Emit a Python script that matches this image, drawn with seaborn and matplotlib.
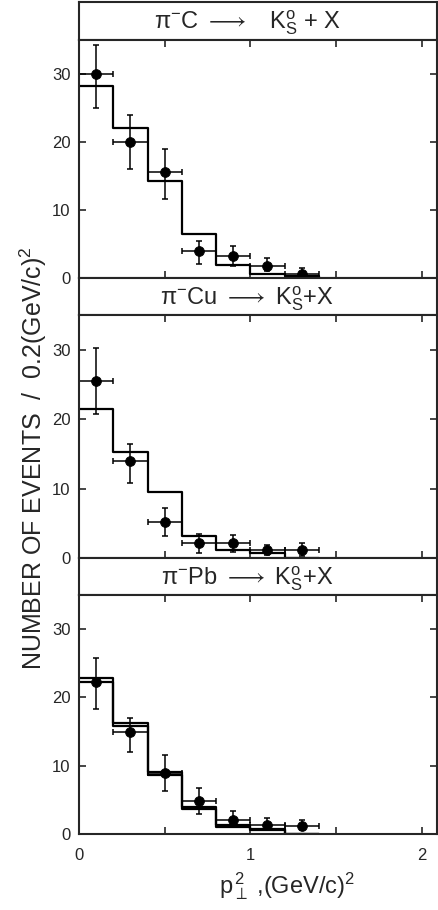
import numpy as np
import pandas as pd
import matplotlib
matplotlib.use("Agg")
import matplotlib.pyplot as plt
import seaborn as sns

# ---------------------------------------------------------------- data
bin_edges = [0.0, 0.2, 0.4, 0.6, 0.8, 1.0, 1.2, 1.4]
pt_x = [0.1, 0.3, 0.5, 0.7, 0.9, 1.1, 1.3]

titles = [r"π$^{-}$C $\longrightarrow$   K$^{\mathrm{o}}_{\mathrm{S}}$ + X",
          r"π$^{-}$Cu $\longrightarrow$ K$^{\mathrm{o}}_{\mathrm{S}}$+X",
          r"π$^{-}$Pb $\longrightarrow$ K$^{\mathrm{o}}_{\mathrm{S}}$+X"]

# histogram heights (per 0.2 bin)
hist_c = [28.2, 22.0, 14.2, 6.4, 1.9, 0.6, 0.3]
hist_cu = [21.5, 15.2, 9.5, 3.1, 1.2, 0.7, 0.0]
hist_pb_a = [22.8, 16.2, 9.1, 4.0, 1.3, 0.8, 0.0]
hist_pb_b = [22.3, 15.8, 8.7, 3.7, 1.0, 0.6, 0.0]

# data points with asymmetric errors
pts_c = [30.0, 20.0, 15.6, 4.0, 3.2, 1.7, 0.6]
lo_c = [25.0, 16.0, 11.6, 2.0, 1.7, 1.0, 0.0]
hi_c = [34.3, 24.0, 19.0, 5.5, 4.7, 2.9, 1.5]

pts_cu = [25.5, 13.9, 5.2, 2.2, 2.2, 1.2, 1.1]
lo_cu = [20.8, 10.8, 3.1, 0.7, 0.9, 0.5, 0.3]
hi_cu = [30.2, 16.4, 7.2, 3.4, 3.3, 1.9, 2.1]

pts_pb = [22.2, 15.0, 8.9, 4.8, 2.1, 1.3, 1.2]
lo_pb = [18.3, 12.0, 6.3, 3.0, 1.0, 0.6, 0.6]
hi_pb = [25.8, 17.0, 11.5, 6.7, 3.3, 2.3, 2.1]

panels = [
    (titles[0], [hist_c], pts_c, lo_c, hi_c),
    (titles[1], [hist_cu], pts_cu, lo_cu, hi_cu),
    (titles[2], [hist_pb_a, hist_pb_b], pts_pb, lo_pb, hi_pb),
]

# ---------------------------------------------------------------- style
sns.set_style("ticks")
plt.rcParams["font.family"] = ["Liberation Sans", "DejaVu Sans"]
plt.rcParams["mathtext.fontset"] = "custom"
plt.rcParams["mathtext.rm"] = "Liberation Sans"
plt.rcParams["mathtext.it"] = "Liberation Sans"

W, H = 439, 910
fig = plt.figure(figsize=(W / 100, H / 100), dpi=100)

# pixel layout: (title top, axes top, axes bottom)
rows = [(2, 40, 278), (278, 315, 558), (558, 595, 834)]
left_px, right_px = 79, 437

def frac(top, bottom):
    return [left_px / W, 1 - bottom / H, (right_px - left_px) / W, (bottom - top) / H]

for i, ((title, hists, y, lo, hi), (t0, a0, a1)) in enumerate(zip(panels, rows)):
    # title box
    tax = fig.add_axes(frac(t0, a0))
    tax.set_xticks([])
    tax.set_yticks([])
    for s in tax.spines.values():
        s.set_linewidth(1.5)
    tax.text(0.47, 0.45, title, ha="center", va="center", fontsize=17,
             transform=tax.transAxes)

    ax = fig.add_axes(frac(a0, a1))
    for h in hists:
        df_h = pd.DataFrame({"x": bin_edges + [1.4], "y": h + [h[-1], 0.0]})
        sns.lineplot(data=df_h, x="x", y="y", drawstyle="steps-post", estimator=None,
                     sort=False, color="black", lw=1.6, ax=ax)

    yerr = [np.array(y) - np.array(lo), np.array(hi) - np.array(y)]
    ax.errorbar(pt_x, y, yerr=yerr, xerr=0.1, fmt="none", ecolor="black",
                elinewidth=1.1, capsize=2.5, capthick=1.1)
    df_p = pd.DataFrame({"x": pt_x, "y": y})
    sns.scatterplot(data=df_p, x="x", y="y", color="black", s=50,
                    edgecolor="black", zorder=5, ax=ax)

    ax.set_xlim(0, 2.09)
    ax.set_ylim(0, 35)
    ax.set_yticks([0, 10, 20, 30])
    ax.set_xticks([0, 0.5, 1, 1.5, 2])
    ax.tick_params(direction="in", length=5, width=1.2, top=True, right=True,
                   labelsize=12)
    ax.tick_params(axis="y", pad=6)
    ax.tick_params(axis="x", pad=10)
    ax.set_xlabel("")
    ax.set_ylabel("")
    for s in ax.spines.values():
        s.set_linewidth(1.5)
        s.set_visible(True)
    if i < 2:
        ax.set_xticklabels([])
    else:
        ax.set_xticklabels(["0", "", "1", "", "2"])
        ax.set_xlabel(r"p$_{\perp}^{\,2}$ ,(GeV/c)$^{2}$", fontsize=17)
        ax.xaxis.set_label_coords(0.58, -0.15)

fig.text(0.075, 1 - 458 / H, r"NUMBER OF EVENTS  /  0.2(GeV/c)$^{2}$", rotation=90,
         ha="center", va="center", fontsize=18)

fig.savefig("out.png", dpi=100)
